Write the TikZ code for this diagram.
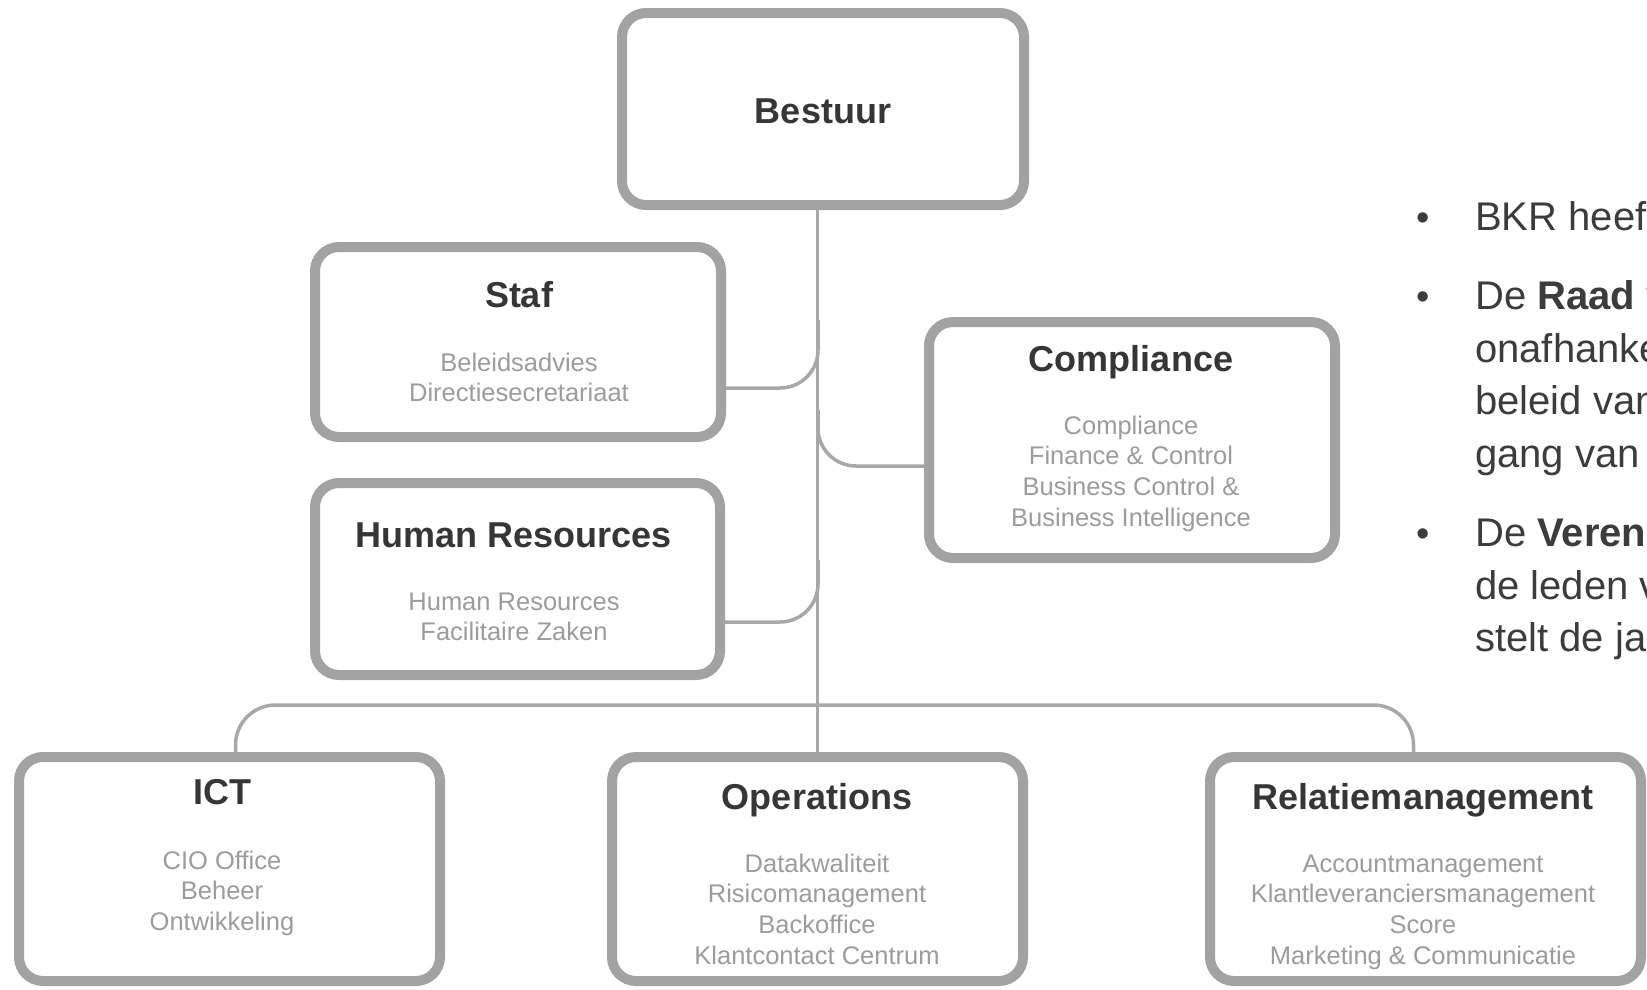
\documentclass[tikz,border=0pt]{standalone}
\usepackage{fontspec}
\setmainfont{Liberation Sans}
\definecolor{boxgray}{HTML}{A2A2A2}
\definecolor{linegray}{HTML}{A8A8A8}
\definecolor{titlegray}{HTML}{363636}
\definecolor{subgray}{HTML}{9C9C9C}
\definecolor{bodygray}{HTML}{3C3C3C}
\begin{document}
\begin{tikzpicture}[x=1pt,y=-1pt,
  orgbox/.style={draw=boxgray, line width=10pt, rounded corners=24pt, fill=white, inner sep=0pt},
  conn/.style={draw=linegray, line width=3.5pt, rounded corners=38pt},
  titletext/.style={font=\fontsize{36}{40}\selectfont\bfseries, text=titlegray, inner sep=0pt, anchor=base},
  subtext/.style={font=\fontsize{25.5}{30.7}\selectfont, text=subgray, align=center, inner sep=0pt, anchor=north},
  bodytext/.style={font=\fontsize{40}{44}\selectfont, text=bodygray, inner sep=0pt, anchor=base west},
  bullettext/.style={font=\fontsize{38}{40}\selectfont, text=bodygray, inner sep=0pt, anchor=base}
]
\useasboundingbox (0,0) rectangle (1647,989);
\clip (0,0) rectangle (1647,989);
\fill[white] (0,0) rectangle (1647,989);

% boxes
\node[orgbox, minimum width=402pt, minimum height=192pt] (bestuur) at (823,109) {};
\node[orgbox, minimum width=406pt, minimum height=190pt] (staf) at (518,342) {};
\node[orgbox, minimum width=405pt, minimum height=192pt] (hr) at (517.5,579) {};
\node[orgbox, minimum width=406pt, minimum height=236pt] (compl) at (1132,440) {};
\node[orgbox, minimum width=421pt, minimum height=224pt] (ict) at (229.5,869) {};
\node[orgbox, minimum width=411pt, minimum height=224pt] (ops) at (817.5,869) {};
\node[orgbox, minimum width=431pt, minimum height=224pt] (rel) at (1425.5,869) {};

% connectors
\coordinate (tS) at (818,320);
\coordinate (tC) at (818,410);
\coordinate (tH) at (818,560);
\coordinate (busmid) at (818,705);
\draw[conn] (ops.north |- bestuur.south) -- (ops.north);
\draw[conn] ([yshift=-46pt]staf.east) -| (tS);
\draw[conn] ([yshift=-26pt]compl.west) -| (tC);
\draw[conn] ([yshift=-43pt]hr.east) -| (tH);
\draw[conn, rounded corners=40pt] ([xshift=6pt]ict.north) |- (busmid) -| ([xshift=-12pt]rel.north);

% texts
\node[titletext] (bestuurT) at (823,123) {Bestuur};

\node[titletext] (stafT) at (519,307) {Staf};
\node[subtext] (stafS) at (519,352.5) {Beleidsadvies\\Directiesecretariaat};

\node[titletext] (hrT) at (514,547) {Human Resources};
\node[subtext] (hrS) at (514,592.5) {Human Resources\\Facilitaire Zaken};

\node[titletext] (complT) at (1131,371) {Compliance};
\node[subtext] (complS) at (1131,415.5) {Compliance\\Finance \& Control\\Business Control \&\\Business Intelligence};

\node[titletext] (ictT) at (222,804) {ICT};
\node[subtext] (ictS) at (222,850.5) {CIO Office\\Beheer\\Ontwikkeling};

\node[titletext] (opsT) at (817,809) {Operations};
\node[subtext] (opsS) at (817,853.5) {Datakwaliteit\\Risicomanagement\\Backoffice\\Klantcontact Centrum};

\node[titletext] (relT) at (1423,809) {Relatiemanagement};
\node[subtext] (relS) at (1423,854.5) {Accountmanagement\\Klantleveranciersmanagement\\Score\\Marketing \& Communicatie};

% right-hand bullet text
\node[bullettext] (b1) at (1423,230) {\textbullet};
\node[bullettext] (b2) at (1423,309) {\textbullet};
\node[bullettext] (b3) at (1423,546) {\textbullet};
\node[bodytext] (l1) at (1475,230) {BKR heef};
\node[bodytext] (l2) at (1475,309) {De \textbf{Raad} v};
\node[bodytext] (l3) at (1475,362) {onafhanke};
\node[bodytext] (l4) at (1475,414) {beleid van};
\node[bodytext] (l5) at (1475,467) {gang van};
\node[bodytext] (l6) at (1475,546) {De \textbf{Veren}};
\node[bodytext] (l7) at (1475,599) {de leden v};
\node[bodytext] (l8) at (1475,651) {stelt de ja};
\end{tikzpicture}
\end{document}
